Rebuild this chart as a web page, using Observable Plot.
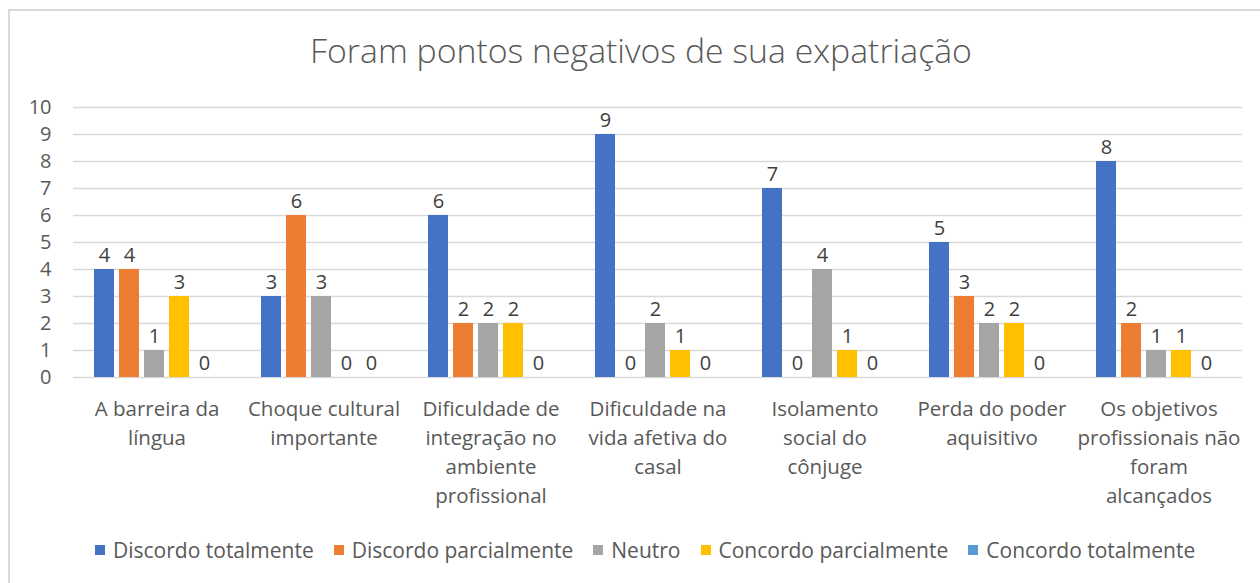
<!DOCTYPE html>
<html><head><meta charset="utf-8">
<script src="https://cdn.jsdelivr.net/npm/d3@7"></script>
<script src="https://cdn.jsdelivr.net/npm/@observablehq/plot@0.6"></script>
<style>
body{margin:0;background:#fff;font-family:"Open Sans",sans-serif;overflow:hidden;}
#frame{position:absolute;left:8px;top:9px;width:1300px;height:640px;border-left:2px solid #d9d9d9;border-top:2px solid #d9d9d9;box-sizing:border-box;}
#chart{position:absolute;left:0;top:0;}
#title{position:absolute;left:0;width:1282px;top:27px;text-align:center;font-size:33.8px;font-weight:300;color:#595959;}
#legend{position:absolute;left:95px;top:536px;display:flex;align-items:center;font-size:21px;color:#595959;white-space:nowrap;}
#legend .item{display:flex;align-items:center;margin-right:20px;}
#legend .sw{width:10px;height:10px;margin-right:8px;}
</style></head>
<body>
<div id="frame"></div>
<div id="chart"></div>
<div id="title">Foram pontos negativos de sua expatriação</div>
<div id="legend"></div>
<script>
const categories = [
  "A barreira da\nlíngua",
  "Choque cultural\nimportante",
  "Dificuldade de\nintegração no\nambiente\nprofissional",
  "Dificuldade na\nvida afetiva do\ncasal",
  "Isolamento\nsocial do\ncônjuge",
  "Perda do poder\naquisitivo",
  "Os objetivos\nprofissionais não\nforam\nalcançados"
];
const seriesNames = ["Discordo totalmente","Discordo parcialmente","Neutro","Concordo parcialmente","Concordo totalmente"];
const seriesColors = ["#4472C4","#ED7D31","#A5A5A5","#FFC000","#5B9BD5"];
const discordoTotalmente    = [4,3,6,9,7,5,8];
const discordoParcialmente  = [4,6,2,0,0,3,2];
const neutro                = [1,3,2,2,4,2,1];
const concordoParcialmente  = [3,0,2,1,1,2,1];
const concordoTotalmente    = [0,0,0,0,0,0,0];
const yTicks = [0,1,2,3,4,5,6,7,8,9,10];

const seriesValues = [discordoTotalmente, discordoParcialmente, neutro, concordoParcialmente, concordoTotalmente];
const data = [];
categories.forEach((c, i) => seriesNames.forEach((s, j) => data.push({category: c, series: s, value: seriesValues[j][i]})));

const chart = Plot.plot({
  width: 1260,
  height: 583,
  marginLeft: 73,
  marginRight: 18,
  marginTop: 107,
  marginBottom: 206,
  style: {fontFamily: "'Open Sans', sans-serif", background: "transparent"},
  fx: {domain: categories, padding: 0},
  x: {domain: seriesNames, paddingInner: 0.22, paddingOuter: 0.863, align: 0.45},
  y: {domain: [0, 10]},
  color: {domain: seriesNames, range: seriesColors},
  marks: [
    Plot.ruleY(yTicks, {stroke: "#d9d9d9", strokeWidth: 1.5}),
    Plot.barY(data, {fx: "category", x: "series", y: "value", fill: "series"}),
    Plot.text(data, {fx: "category", x: "series", y: "value", text: d => String(d.value), lineAnchor: "bottom", dy: -8, fontSize: 20, fill: "#404040"}),
    Plot.axisY({ticks: yTicks, tickSize: 0, tickPadding: 22, fontSize: 20, color: "#595959", label: null, tickFormat: d => String(d)}),
    Plot.axisFx({anchor: "bottom", tickSize: 0, tickPadding: 18, fontSize: 20.5, lineHeight: 1.42, color: "#595959", label: null}),
    Plot.axisX({ticks: [], label: null})
  ]
});
document.getElementById("chart").appendChild(chart);

const legend = document.getElementById("legend");
seriesNames.forEach((s, j) => {
  const it = document.createElement("div");
  it.className = "item";
  const sw = document.createElement("div");
  sw.className = "sw";
  sw.style.background = seriesColors[j];
  const t = document.createElement("span");
  t.textContent = s;
  it.appendChild(sw); it.appendChild(t);
  legend.appendChild(it);
});
</script>
</body></html>
